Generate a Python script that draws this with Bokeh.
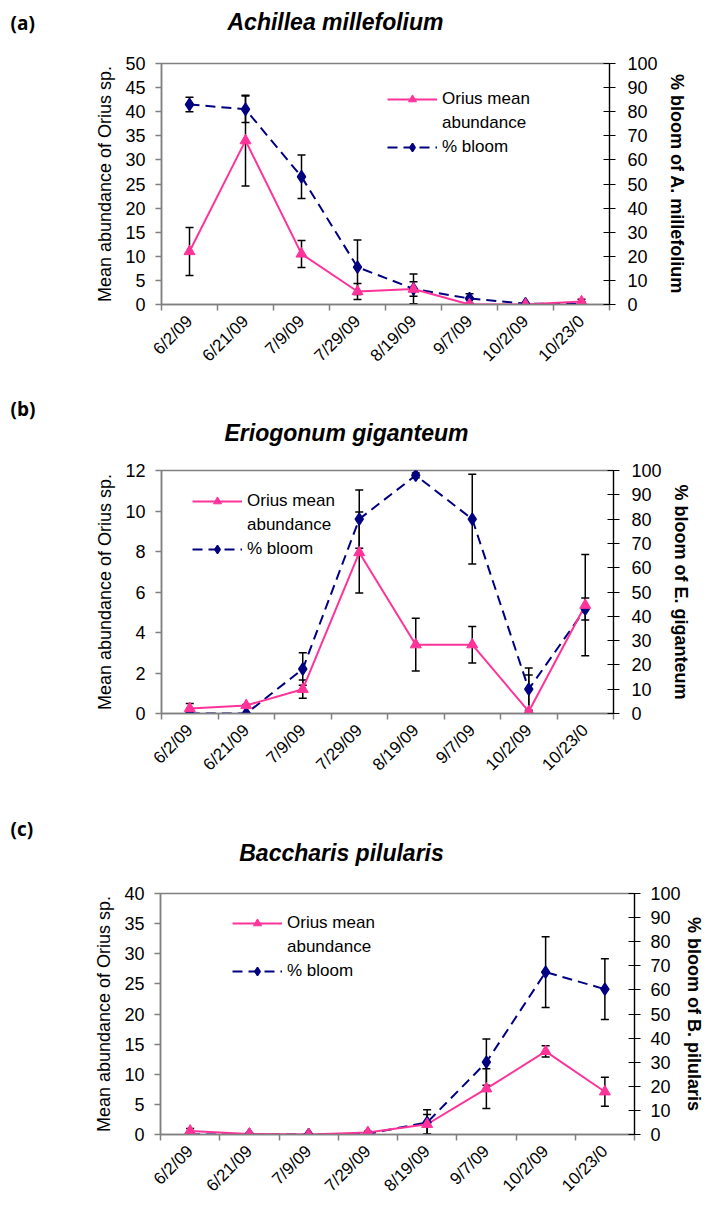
import numpy as np
from bokeh.plotting import figure
from bokeh.models import (ColumnDataSource, Range1d, LinearAxis, FixedTicker,
                          Whisker, TeeHead, Legend, LegendItem)
from bokeh.core.properties import value
from bokeh.layouts import column, row
from bokeh.embed import file_html
from bokeh.resources import INLINE

# ---------------- data ----------------
dates = ["6/2/09", "6/21/09", "7/9/09", "7/29/09", "8/19/09", "9/7/09", "10/2/09", "10/23/0"]

# (a) Achillea millefolium
a_orius = [11.0, 34.0, 10.5, 2.7, 3.2, 0.0, 0.0, 0.6]
a_orius_err = [5.0, 9.4, 2.8, 1.65, 1.5, 0.0, 0.0, 0.5]
a_bloom = [83.0, 81.0, 53.0, 15.5, 6.5, 2.5, 0.3, 0.3]
a_bloom_err = [3.0, 5.5, 9.0, 11.3, 6.2, 2.0, 0.0, 0.8]

# (b) Eriogonum giganteum
b_orius = [0.25, 0.4, 1.2, 7.95, 3.4, 3.4, 0.1, 5.35]
b_orius_err = [0.25, 0.05, 0.45, 2.0, 1.3, 0.9, 1.8, 2.5]
b_bloom = [0.0, 0.0, 18.3, 80.0, 98.0, 80.0, 10.0, 43.0]
b_bloom_err = [0.0, 0.0, 6.7, 12.0, 1.0, 18.5, 8.7, 4.5]

# (c) Baccharis pilularis
c_orius = [0.6, 0.1, 0.0, 0.35, 1.7, 7.6, 13.8, 7.1]
c_orius_err = [0.4, 0.1, 0.0, 0.2, 1.6, 3.3, 0.95, 2.4]
c_bloom = [0.0, 0.0, 0.0, 0.3, 5.0, 30.0, 67.4, 60.3]
c_bloom_err = [0.0, 0.0, 0.0, 0.3, 5.3, 9.6, 14.7, 12.6]

PINK = "#FF3399"
NAVY = "#000080"
GRAY = "#808080"
FONT = "Liberation Sans"


def make_header(letter, title, height, letter_y, title_cx, title_y, width=704):
    h = figure(width=width, height=height, x_range=Range1d(0, width),
               y_range=Range1d(height, 0), output_backend="svg",
               toolbar_location=None, x_axis_type=None, y_axis_type=None,
               min_border=0, min_border_left=0, min_border_right=0,
               min_border_top=0, min_border_bottom=0)
    h.outline_line_color = None
    h.xgrid.visible = False
    h.ygrid.visible = False
    h.text(x=[10], y=[letter_y], text=[letter], text_font=value("Open Sans"),
           text_font_style="bold", text_font_size="19px", text_baseline="middle",
           text_align="left", text_color="black")
    h.text(x=[title_cx], y=[title_y], text=[title], text_font=value(FONT),
           text_font_style="bold italic", text_font_size="23px", text_baseline="middle",
           text_align="center", text_color="black")
    return h


def make_panel(right_label, orius, orius_err, bloom, bloom_err,
               ymax, ystep, frame_left, frame_right, frame_top, frame_bottom,
               fig_top, fig_bottom, right_border, legend_xy, r_standoff, l_standoff,
               r_label_standoff=12):
    b_left = frame_left
    fw = frame_right - frame_left
    fh = frame_bottom - frame_top
    b_top = frame_top - fig_top
    b_bottom = fig_bottom - frame_bottom
    n = len(dates)
    xs = np.arange(n) + 0.5

    p = figure(width=b_left + fw + right_border, height=b_top + fh + b_bottom,
               x_range=Range1d(0, n), y_range=Range1d(0, ymax),
               output_backend="svg", toolbar_location=None,
               min_border_left=b_left, min_border_right=right_border,
               min_border_top=b_top, min_border_bottom=b_bottom)
    p.extra_y_ranges = {"bloom": Range1d(0, 100)}
    p.xgrid.visible = False
    p.ygrid.visible = False
    p.outline_line_color = GRAY
    p.outline_line_width = 1.5

    # x axis
    xa = p.xaxis[0]
    xa.ticker = FixedTicker(ticks=list(xs), minor_ticks=list(range(n + 1)))
    xa.major_label_overrides = {float(x): d for x, d in zip(xs, dates)}
    xa.major_label_orientation = np.pi / 4
    xa.major_tick_out = 0
    xa.major_tick_in = 0
    xa.minor_tick_out = 6
    xa.minor_tick_in = 0
    xa.minor_tick_line_color = GRAY
    xa.minor_tick_line_width = 1.5
    xa.axis_line_color = GRAY
    xa.axis_line_width = 1.5
    xa.major_label_text_font = FONT
    xa.major_label_text_font_size = "17px"
    xa.major_label_text_color = "black"
    xa.major_label_standoff = 8

    # left axis
    ya = p.yaxis[0]
    ya.ticker = FixedTicker(ticks=list(range(0, ymax + 1, ystep)), minor_ticks=[])
    ya.axis_line_color = GRAY
    ya.axis_line_width = 1.5
    ya.major_tick_line_color = GRAY
    ya.major_tick_line_width = 1.5
    ya.major_tick_out = 6
    ya.major_tick_in = 0
    ya.major_label_text_font = FONT
    ya.major_label_text_font_size = "18px"
    ya.major_label_text_color = "black"
    ya.major_label_standoff = 10
    ya.axis_label = "Mean abundance of Orius sp."
    ya.axis_label_text_font = FONT
    ya.axis_label_text_font_size = "18px"
    ya.axis_label_text_font_style = "normal"
    ya.axis_label_text_color = "black"
    ya.axis_label_standoff = l_standoff

    # right axis
    ra = LinearAxis(y_range_name="bloom",
                    ticker=FixedTicker(ticks=list(range(0, 101, 10)), minor_ticks=[]))
    ra.axis_line_color = "black"
    ra.axis_line_width = 1.2
    ra.major_tick_line_color = "black"
    ra.major_tick_line_width = 1.2
    ra.major_tick_out = 6
    ra.major_tick_in = 6
    ra.major_label_text_font = FONT
    ra.major_label_text_font_size = "18px"
    ra.major_label_text_color = "black"
    ra.major_label_standoff = r_label_standoff
    ra.axis_label = right_label
    ra.axis_label_text_font = FONT
    ra.axis_label_text_font_size = "18px"
    ra.axis_label_text_font_style = "bold"
    ra.axis_label_text_color = "black"
    ra.axis_label_standoff = r_standoff
    p.add_layout(ra, "right")

    o = np.array(orius, dtype=float)
    oe = np.array(orius_err, dtype=float)
    bv = np.array(bloom, dtype=float)
    be = np.array(bloom_err, dtype=float)
    src_o = ColumnDataSource(dict(x=xs, y=o, upper=o + oe, lower=np.maximum(o - oe, 0)))
    src_b = ColumnDataSource(dict(x=xs, y=bv, upper=bv + be, lower=np.maximum(bv - be, 0)))

    bl = p.line("x", "y", source=src_b, y_range_name="bloom", line_color=NAVY,
                line_width=2, line_dash="10 6")
    ol = p.line("x", "y", source=src_o, line_color=PINK, line_width=2)
    bm = p.scatter("x", "y", source=src_b, y_range_name="bloom", marker="diamond",
                   size=12, fill_color=NAVY, line_color=NAVY, line_width=1.5)
    om = p.scatter("x", "y", source=src_o, marker="triangle", size=11,
                   fill_color=PINK, line_color=PINK)

    for src, rn in ((src_o, "default"), (src_b, "bloom")):
        w = Whisker(source=src, base="x", upper="upper", lower="lower",
                    y_range_name=rn, line_color="black", line_width=1.5,
                    upper_head=TeeHead(size=8, line_color="black", line_width=1.5),
                    lower_head=TeeHead(size=8, line_color="black", line_width=1.5))
        p.add_layout(w)

    dummy = p.line(x=[], y=[], line_alpha=0)
    legend = Legend(items=[LegendItem(label="Orius mean", renderers=[ol, om]),
                           LegendItem(label="abundance", renderers=[dummy]),
                           LegendItem(label="% bloom", renderers=[bl, bm])],
                    location=(legend_xy[0] - frame_left, frame_bottom - legend_xy[1]),
                    padding=0, margin=0, spacing=4, glyph_width=50, glyph_height=20,
                    label_height=20, label_standoff=5,
                    label_text_font=FONT, label_text_font_size="17px",
                    label_text_color="black",
                    border_line_alpha=0, background_fill_alpha=0)
    p.add_layout(legend)
    return p


ha = make_header("(a)", "Achillea millefolium", 40, 22, 335, 21)
pa = make_panel("% bloom of A. millefolium",
                a_orius, a_orius_err, a_bloom, a_bloom_err, 50, 5,
                161, 609, 63, 304, 40, 392, 95, (387, 157), 6, 7)
hb = make_header("(b)", "Eriogonum giganteum", 54, 16, 346, 40)
pb = make_panel("% bloom of E. giganteum",
                b_orius, b_orius_err, b_bloom, b_bloom_err, 12, 2,
                161, 613, 470, 714, 446, 784, 95, (192, 560), 6, 7)
hc = make_header("(c)", "Baccharis pilularis", 82, 44, 341, 68)
pc = make_panel("% bloom of B. pilularis",
                c_orius, c_orius_err, c_bloom, c_bloom_err, 40, 5,
                160, 634, 893, 1135, 866, 1205, 76, (232, 982), 0, 7, 10)

layout = column(row(ha), row(pa), row(hb), row(pb), row(hc), row(pc), spacing=0)
open("out.html", "w").write(file_html(layout, INLINE))
